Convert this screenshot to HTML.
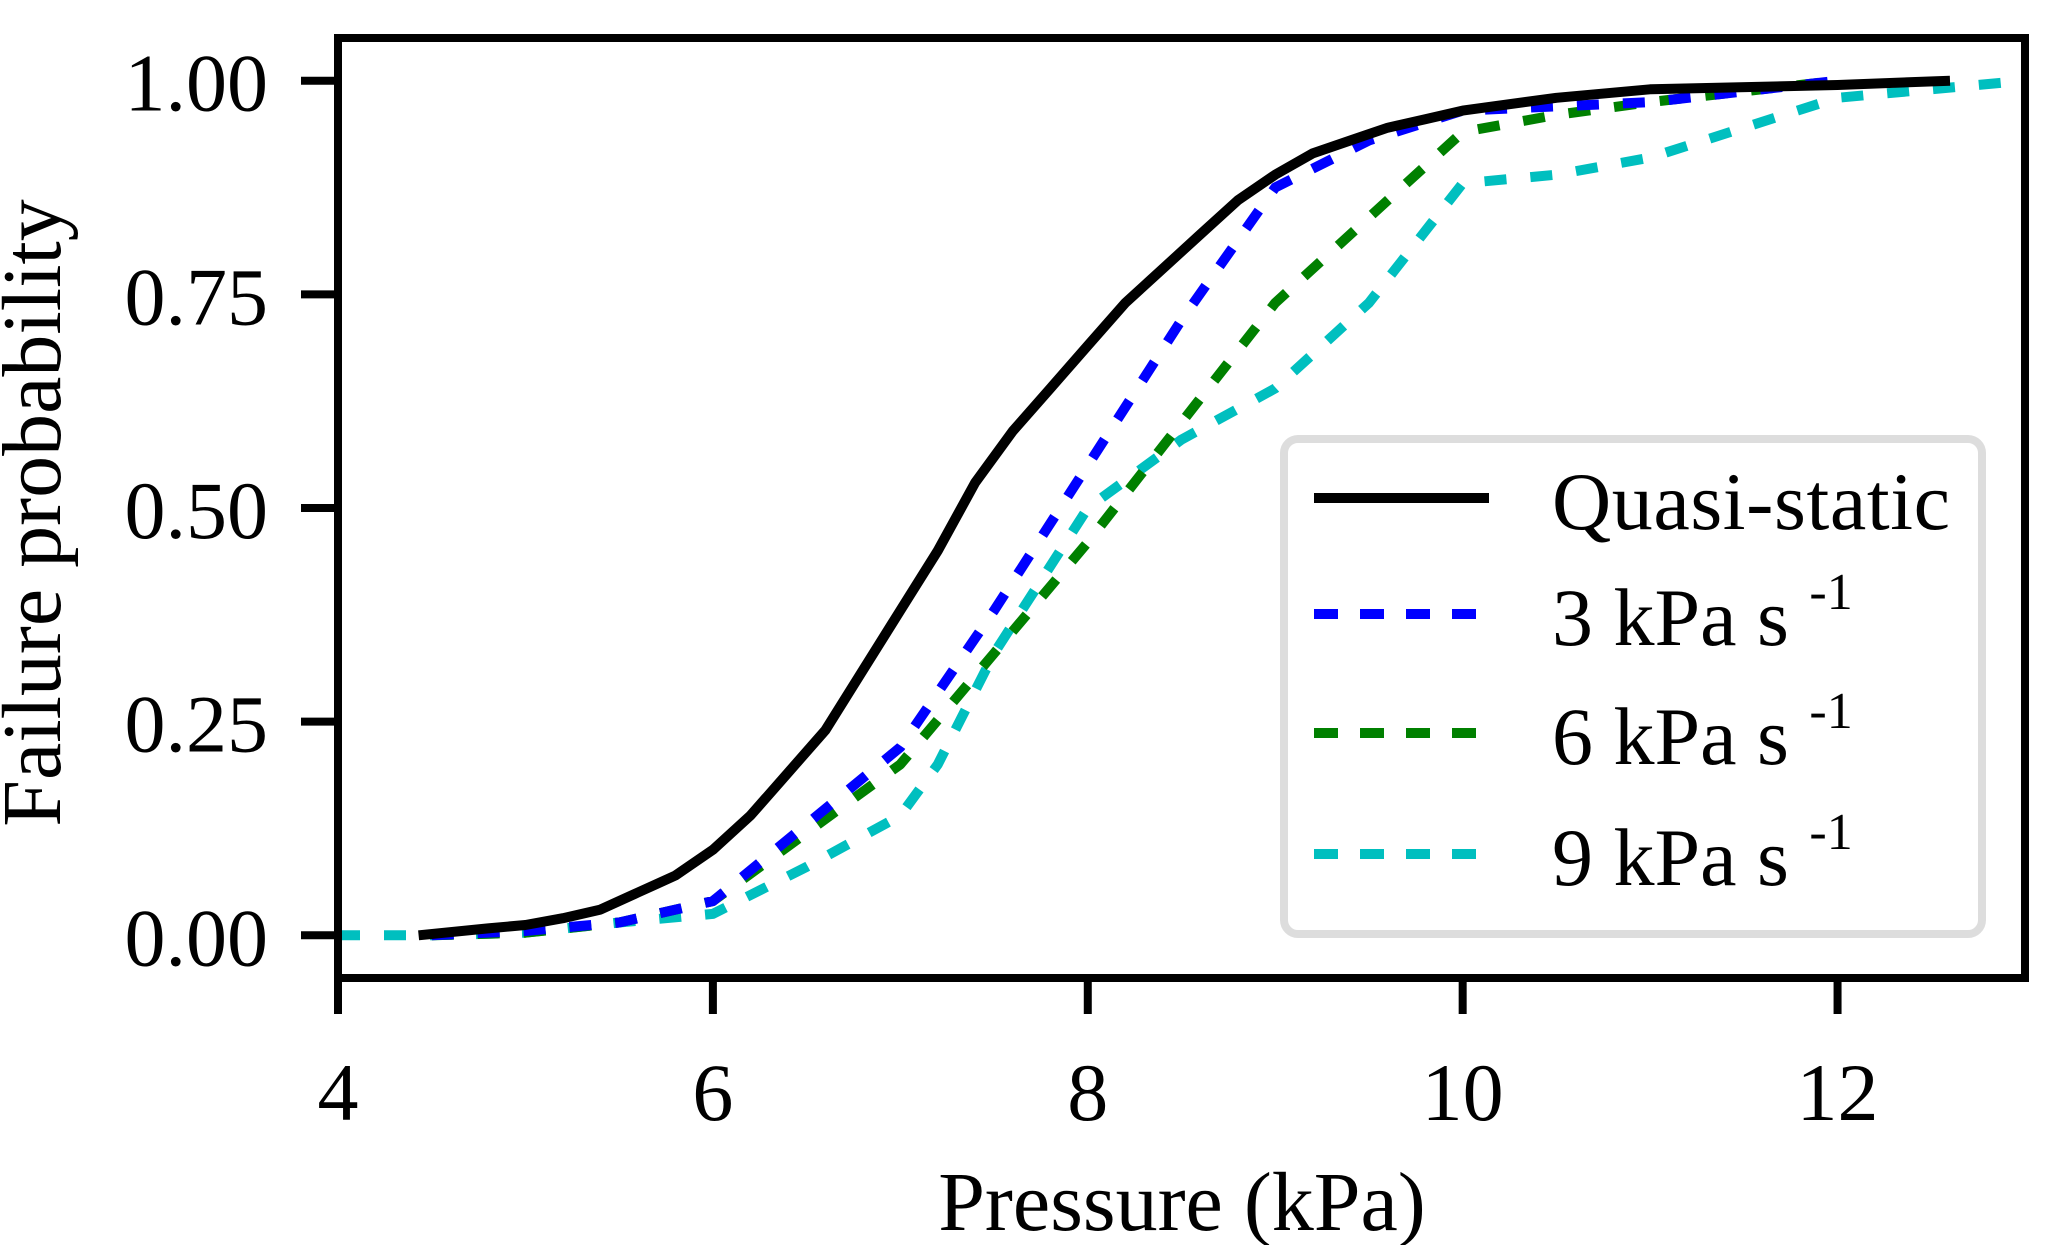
<!DOCTYPE html>
<html><head><meta charset="utf-8"><style>
html,body{margin:0;padding:0;background:#fff;}
svg{display:block;font-family:"Liberation Serif",serif;}
</style></head><body>
<svg id="chart" width="2067" height="1245" viewBox="0 0 2067 1245" xmlns="http://www.w3.org/2000/svg">
<g id="plot"></g>
<g id="axes"></g>
<g id="legend"></g>
</svg>
<script>
const xTicks = [4, 6, 8, 10, 12];
const yTicks = [0, 0.25, 0.5, 0.75, 1.0];
const yTickLabels = ["0.00", "0.25", "0.50", "0.75", "1.00"];
const seriesNames = ["Quasi-static", "3 kPa s", "6 kPa s", "9 kPa s"];
const quasiX = [4.43,4.8,5.0,5.2,5.4,5.6,5.8,6.0,6.2,6.4,6.6,6.8,7.0,7.2,7.4,7.6,7.8,8.0,8.2,8.4,8.6,8.8,9.0,9.2,9.4,9.6,9.8,10.0,10.5,11.0,12.0,12.6];
const quasiY = [0,0.008,0.012,0.02,0.03,0.05,0.07,0.1,0.14,0.19,0.24,0.31,0.38,0.45,0.53,0.59,0.64,0.69,0.74,0.78,0.82,0.86,0.89,0.915,0.93,0.945,0.955,0.965,0.98,0.99,0.995,1.0];
const r3X = [4.5,5,5.5,6,6.5,7,7.5,8,8.5,9,9.5,10,10.5,11,12];
const r3Y = [0,0.005,0.015,0.04,0.13,0.22,0.38,0.55,0.72,0.875,0.93,0.965,0.97,0.975,1.0];
const r6X = [4.5,5,5.5,6,6.5,7,7.5,8,8.5,9,9.5,10,10.5,11,12];
const r6Y = [0,0.003,0.015,0.04,0.12,0.2,0.33,0.46,0.6,0.74,0.84,0.94,0.96,0.975,1.0];
const r9X = [4,4.5,5,5.5,6,6.5,7,7.2,7.5,8,8.5,9,9.5,10,10.5,11,12,13];
const r9Y = [0,0,0.003,0.015,0.025,0.08,0.14,0.2,0.33,0.5,0.58,0.64,0.74,0.88,0.89,0.91,0.98,1.0];

const NS = "http://www.w3.org/2000/svg";
const X0 = 338, X1 = 2025, Y0 = 38, Y1 = 978;
const xMin = 4, xMax = 13, yMin = -0.05, yMax = 1.05;
function sx(v){ return X0 + (v - xMin) / (xMax - xMin) * (X1 - X0); }
function sy(v){ return Y1 - (v - yMin) / (yMax - yMin) * (Y1 - Y0); }
function mk(tag, attrs, parent){ const e = document.createElementNS(NS, tag); for (const k in attrs) e.setAttribute(k, attrs[k]); parent.appendChild(e); return e; }

const plot = document.getElementById('plot');
const axes = document.getElementById('axes');
const legend = document.getElementById('legend');

const series = [
  {x: quasiX, y: quasiY, color: "#000000", dash: null, name: "quasi-static-line"},
  {x: r3X, y: r3Y, color: "#0000ff", dash: "22 24", name: "rate-3-line"},
  {x: r6X, y: r6Y, color: "#008000", dash: "22 24", name: "rate-6-line"},
  {x: r9X, y: r9Y, color: "#00bfbf", dash: "22 24", name: "rate-9-line"}
];
const drawOrder = [3, 2, 1, 0];
for (const i of drawOrder) {
  const s = series[i];
  const d = s.x.map((v, j) => (j ? "L" : "M") + sx(v).toFixed(1) + " " + sy(s.y[j]).toFixed(1)).join(" ");
  const p = mk('path', {d: d, fill: "none", stroke: s.color, "stroke-width": 10, "stroke-linejoin": "round"}, plot);
  if (s.dash) p.setAttribute('stroke-dasharray', s.dash);
  
  
}

const frame = mk('rect', {x: X0, y: Y0, width: X1 - X0, height: Y1 - Y0, fill: "none", stroke: "#000", "stroke-width": 8}, axes);



for (const t of xTicks) {
  const ln = mk('line', {x1: sx(t), x2: sx(t), y1: Y1, y2: Y1 + 36, stroke: "#000", "stroke-width": 8}, axes);
  
  
  const tx = mk('text', {x: sx(t), y: 1120, "font-size": 82, "text-anchor": "middle"}, axes);
  tx.textContent = String(t);
  
  
}
yTicks.forEach((t, i) => {
  const ln = mk('line', {x1: X0 - 37, x2: X0, y1: sy(t), y2: sy(t), stroke: "#000", "stroke-width": 8}, axes);
  
  
  const tx = mk('text', {x: 268, y: sy(t) + 30, "font-size": 82, "text-anchor": "end"}, axes);
  tx.textContent = yTickLabels[i];
  
  
});
const xl = mk('text', {x: 1182, y: 1230, "font-size": 84, "text-anchor": "middle"}, axes);
xl.textContent = "Pressure (kPa)";


const yl = mk('text', {x: 0, y: 0, "font-size": 84, "text-anchor": "middle", transform: "translate(60,513) rotate(-90)"}, axes);
yl.textContent = "Failure probability";



const box = mk('rect', {x: 1284, y: 439, width: 698, height: 495, rx: 14, fill: "#fff", stroke: "#dddddd", "stroke-width": 8}, legend);


const rowY = [498, 614, 733, 854];
series.forEach((s, i) => {
  const g = mk('g', {}, legend);
  
  
  const ln = mk('line', {x1: 1314, x2: 1489, y1: rowY[i], y2: rowY[i], stroke: s.color, "stroke-width": 10}, g);
  if (s.dash) ln.setAttribute('stroke-dasharray', "24 22");
  
  
  const tx = mk('text', {x: 1552, y: rowY[i] + 31, "font-size": 82}, g);
  
  
  if (i === 0) { tx.textContent = seriesNames[0]; tx.setAttribute('textLength', 398); }
  else {
    tx.setAttribute('xml:space', 'preserve');
    const parts = seriesNames[i].split(" ");
    tx.textContent = parts[0] + "  " + parts[1] + " " + parts[2] + " ";
    const sup = mk('tspan', {"font-size": 52, dy: -36}, tx);
    sup.textContent = "-1";
  }
});
</script>
</body></html>
